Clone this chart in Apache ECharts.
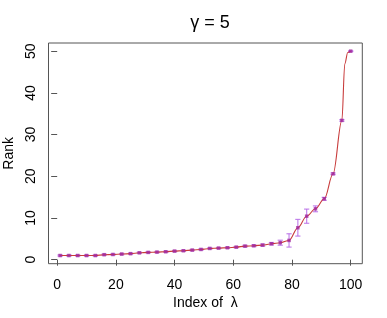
<!DOCTYPE html>
<html>
<head>
<meta charset="utf-8">
<script src="https://cdn.jsdelivr.net/npm/echarts@6/dist/echarts.min.js"></script>
<style>html,body{margin:0;padding:0;background:#fff}#c{width:387px;height:318px}</style>
</head>
<body>
<div id="c"></div>
<script>
// Marker positions (every 3rd index) and their mean ranks
const idx  = [1,4,7,10,13,16,19,22,25,28,31,34,37,40,43,46,49,52,55,58,61,64,67,70,73,76,79,82,85,88,91,94,97,100];
const rank = [1,1,1,1,1,1.2,1.25,1.35,1.45,1.65,1.75,1.82,1.91,2.06,2.15,2.3,2.46,2.7,2.78,2.87,3.01,3.25,3.35,3.5,3.83,4.07,4.62,7.66,10.43,12.2,14.6,20.6,33.4,50];
const err  = [0.15,0.15,0.15,0.15,0.15,0.15,0.15,0.15,0.15,0.15,0.15,0.15,0.15,0.15,0.15,0.15,0.15,0.15,0.15,0.15,0.15,0.2,0.2,0.25,0.3,0.6,1.6,2.0,1.7,0.7,0.35,0.2,0.2,0.1];
// Curve (markers plus the bend near the top)
const curveIdx  = [1,4,7,10,13,16,19,22,25,28,31,34,37,40,43,46,49,52,55,58,61,64,67,70,73,76,79,82,85,88,91,94,97,98,99,100];
const curveRank = [1,1,1,1,1,1.2,1.25,1.35,1.45,1.65,1.75,1.82,1.91,2.06,2.15,2.3,2.46,2.7,2.78,2.87,3.01,3.25,3.35,3.5,3.83,4.07,4.62,7.66,10.43,12.2,14.6,20.6,33.4,47.0,49.7,50];
const xTicks = [0,20,40,60,80,100];
const yTicks = [0,10,20,30,40,50];

const font = 'Liberation Sans, Arial, Helvetica, sans-serif';
const chart = echarts.init(document.getElementById('c'));
const pts = idx.map((x,i)=>[x, rank[i], err[i]]);
const curve = curveIdx.map((x,i)=>[x, curveRank[i]]);

chart.setOption({
  animation:false,
  backgroundColor:'#fff',
  title:{text:'γ = 5', left:205, top:9, textAlign:'center',
    textStyle:{fontFamily:font, fontSize:18, fontWeight:'normal', color:'#000'}},
  grid:{left:48.5, right:24.7, top:43, bottom:54.3, outerBoundsMode:'none', containLabel:false,
    show:true, borderColor:'#555', borderWidth:1, backgroundColor:'transparent'},
  xAxis:{type:'value', min:-2.96, max:103.96,
    name:'Index of  λ', nameLocation:'middle', nameGap:30,
    nameTextStyle:{fontFamily:font, fontSize:14, color:'#000'},
    axisLine:{show:false},
    axisTick:{show:true, length:6, customValues:xTicks, lineStyle:{color:'#555'}},
    axisLabel:{customValues:xTicks, margin:14, fontFamily:font, fontSize:14, color:'#000'},
    splitLine:{show:false}},
  yAxis:{type:'value', min:-0.96, max:51.96,
    name:'Rank', nameLocation:'middle', nameGap:31, nameRotate:90,
    nameTextStyle:{fontFamily:font, fontSize:14, color:'#000'},
    axisLine:{show:false},
    axisTick:{show:true, length:6, customValues:yTicks, lineStyle:{color:'#555'}},
    axisLabel:{customValues:yTicks, rotate:90, margin:10, fontFamily:font, fontSize:14, color:'#000'},
    splitLine:{show:false}},
  series:[
    {type:'custom', data:pts, z:2,
      renderItem:function(params, api){
        const x=api.value(0), y=api.value(1), e=api.value(2);
        const t=api.coord([x,y+e]), b=api.coord([x,y-e]);
        const w=2.6;
        const st={stroke:'#b870e8', lineWidth:1.2, opacity:0.85};
        return {type:'group', children:[
          {type:'line', shape:{x1:t[0],y1:t[1],x2:b[0],y2:b[1]}, style:st},
          {type:'line', shape:{x1:t[0]-w,y1:t[1],x2:t[0]+w,y2:t[1]}, style:st},
          {type:'line', shape:{x1:b[0]-w,y1:b[1],x2:b[0]+w,y2:b[1]}, style:st}
        ]};
      }},
    {type:'line', data:curve, smooth:0.35, smoothMonotone:'x', showSymbol:false, z:3,
      lineStyle:{color:'#c83c3c', width:1.1}},
    {type:'scatter', data:pts.map(p=>[p[0],p[1]]), symbol:'rect', symbolSize:3.5, z:4,
      itemStyle:{color:'#a0289c'}}
  ]
});
</script>
</body>
</html>
